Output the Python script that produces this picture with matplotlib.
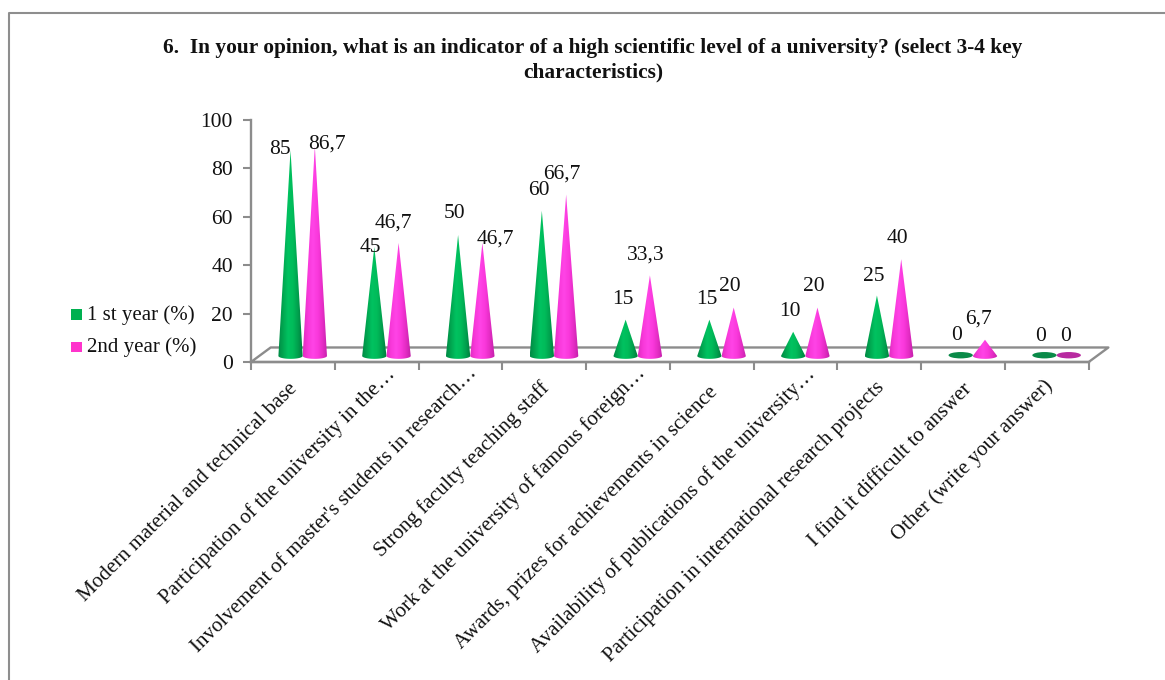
import numpy as np
import matplotlib
matplotlib.use("Agg")
import matplotlib.pyplot as plt
from matplotlib.colors import LinearSegmentedColormap
from matplotlib.lines import Line2D
from matplotlib.patches import Ellipse, Polygon, Rectangle

plt.rcParams['font.family'] = ['Liberation Serif', 'DejaVu Serif']

title = "6.  In your opinion, what is an indicator of a high scientific level of a university? (select 3-4 key\ncharacteristics)"
categories = ["Modern material and technical base",
              "Participation of the university in the…",
              "Involvement of master's students in research…",
              "Strong faculty teaching staff",
              "Work at the university of famous foreign…",
              "Awards, prizes for achievements in science",
              "Availability of publications of the university…",
              "Participation in international research projects",
              "I find it difficult to answer",
              "Other (write your answer)"]
first_year = [85, 45, 50, 60, 15, 15, 10, 25, 0, 0]
second_year = [86.7, 46.7, 46.7, 66.7, 33.3, 20, 20, 40, 6.7, 0]
first_labels = ["85", "45", "50", "60", "15", "15", "10", "25", "0", "0"]
second_labels = ["86,7", "46,7", "46,7", "66,7", "33,3", "20", "20", "40", "6,7", "0"]
# label offsets in pixels relative to the cone tip
first_off = [(-11, 1), (-4, 0), (-4, 21), (-3, 20), (-3, 20), (-3, 20), (-3, 20), (-3, 19), (-4, 20), (-4, 19)]
second_off = [(12, 2), (-5, 20), (13, 4), (-4, 20), (-4, 20), (-4, 21), (-4, 21), (-4, 21), (-6, 21), (-3, 19)]
# end of each category label relative to its slot centre, pixels
cat_off = [(2, -24), (16, -9), (14, -8), (2, -23), (15, -8), (3, -27), (17, -9), (2, -23), (6, -24), (3, -21)]

W, H = 1165, 680
fig = plt.figure(figsize=(W / 100, H / 100), dpi=100, facecolor='white')
L, R, T, B = 251, 1088.7, 120, 362
ax = fig.add_axes([L / W, 1 - B / H, (R - L) / W, (B - T) / H])
ax.set_xlim(0, 10)
ax.set_ylim(0, 100)
ax.patch.set_alpha(0)

GRAY = '#8c8c8c'
# chart frame: only left and top edges are visible in the crop
fig.add_artist(Line2D([8.5 / W, 8.5 / W, 1], [0, 1 - 13 / H, 1 - 13 / H], transform=fig.transFigure,
                      color='#8e8e8e', lw=1.5))

for s in ['top', 'right']:
    ax.spines[s].set_visible(False)
for s in ['left', 'bottom']:
    ax.spines[s].set_color(GRAY)
    ax.spines[s].set_linewidth(1.7)

ax.set_yticks(range(0, 101, 20))
ax.tick_params(axis='y', length=6, width=1.5, color=GRAY, labelsize=15.5, pad=7, labelcolor='#111111')
ax.set_xticks(range(0, 11))
ax.set_xticklabels([])
ax.tick_params(axis='x', length=6, width=1.5, color=GRAY)

# depth (floor) of the 3-D plot, given in axis units
dx, dy = 0.235, 6.0
ax.plot([0, dx, 10 + dx, 10, 0], [0, dy, dy, 0, 0], color=GRAY, lw=1.7, clip_on=False, zorder=1.5)

green = LinearSegmentedColormap.from_list('g', ['#008a45', '#00a650', '#00c260', '#00bc5a', '#00a04e', '#007a3c'])
pink = LinearSegmentedColormap.from_list('p', ['#e02cc0', '#f838da', '#ff44e6', '#fa38dc', '#e42cc4', '#c020a8'])
base = 2.5
half = 0.145
eh = 2.4
grad = np.linspace(0, 1, 128).reshape(1, -1)


def cone(xc, v, cmap, flat):
    if v == 0:
        ax.add_patch(Ellipse((xc, base + 0.3), half * 2, eh * 1.1, fc=flat, ec='none', zorder=3))
        return
    t = np.linspace(np.pi, 2 * np.pi, 30)
    bx = xc + half * np.cos(t)
    by = base + eh / 2 * np.sin(t)
    pts = np.column_stack([np.r_[xc, bx], np.r_[base + v, by]])
    poly = Polygon(pts, closed=True, transform=ax.transData, fc='none', ec='none')
    ax.add_patch(poly)
    im = ax.imshow(grad, extent=[xc - half, xc + half, 0, 100], aspect='auto', cmap=cmap, zorder=3, vmin=0, vmax=1)
    im.set_clip_path(poly)


xs = np.arange(10)
for i in xs:
    x1, x2 = i + 0.472, i + 0.762
    cone(x1, first_year[i], green, '#0a8a48')
    cone(x2, second_year[i], pink, '#b82aa0')
    ax.annotate(first_labels[i], (x1, base + first_year[i]), xytext=first_off[i], textcoords='offset pixels',
                ha='center', va='center', fontsize=15.5, color='#111111', annotation_clip=False, zorder=5)
    ax.annotate(second_labels[i], (x2, base + second_year[i]), xytext=second_off[i], textcoords='offset pixels',
                ha='center', va='center', fontsize=15.5, color='#111111', annotation_clip=False, zorder=5)
    ax.annotate(categories[i], (i + 0.5, 0), xytext=cat_off[i], textcoords='offset pixels',
                rotation=45, rotation_mode='anchor', ha='right', va='center', fontsize=15.1,
                color='#111111', annotation_clip=False)
ax.set_xlim(0, 10)
ax.set_ylim(0, 100)

fig.text(593 / W, 1 - 38 / H, title, ha='center', va='top', fontsize=15.4, fontweight='bold',
         color='#111111', linespacing=1.28, multialignment='center')

# legend
for y, col, lab in [(315, '#00b050', '1 st year (%)'), (347, '#ff33cc', '2nd year (%)')]:
    fig.add_artist(Rectangle((71 / W, 1 - (y + 5) / H), 10.5 / W, 10.5 / H, transform=fig.transFigure,
                             fc=col, ec='none'))
    fig.text(87 / W, 1 - y / H, lab, ha='left', va='center', fontsize=15, color='#111111')

fig.savefig('out.png', dpi=100)
